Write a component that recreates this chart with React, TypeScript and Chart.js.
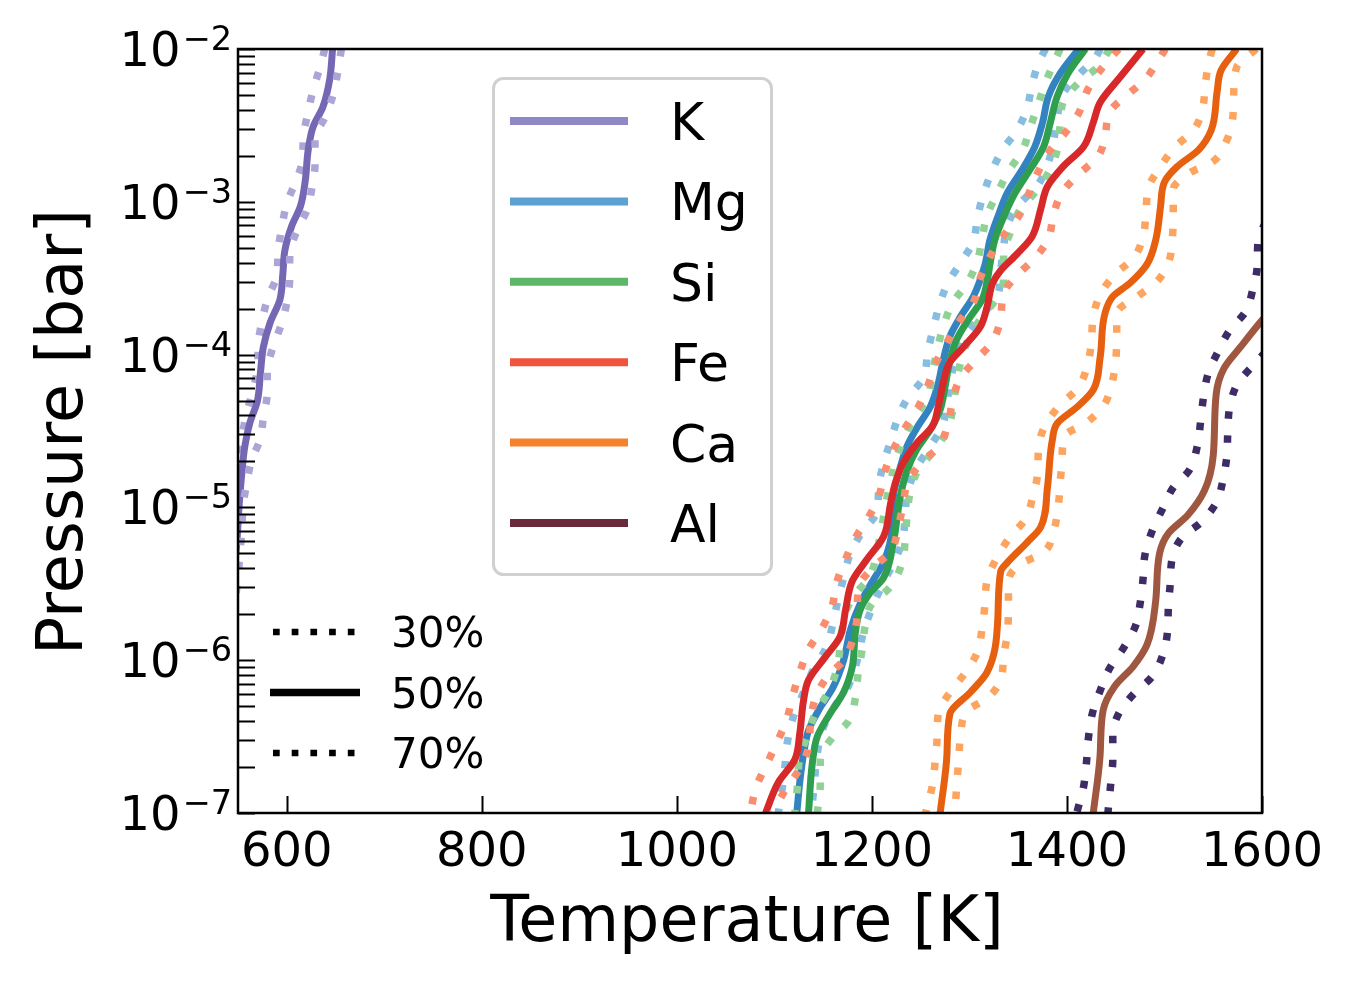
import React, { useEffect, useRef } from 'react';
import { Chart, registerables } from 'chart.js';

Chart.register(...registerables);

type Pt = [number, number]; // [temperature K, log10 pressure bar]

const X_TICKS = [600, 800, 1000, 1200, 1400, 1600];
const Y_EXPONENTS = [-7, -6, -5, -4, -3, -2];
const SPECIES = ['K', 'Mg', 'Si', 'Fe', 'Ca', 'Al'];
const FRACTIONS = ['30%', '50%', '70%'];
const LEGEND_COLORS = ['#8e89c4', '#5ba2d3', '#5cb868', '#f0543c', '#f6822e', '#6a2a3c'];
const SOLID_COLORS = ['#7667b5', '#3383c0', '#2f9e4f', '#d7282a', '#e6600f', '#a0573f'];
const DOTTED_COLORS = ['#aaa7d6', '#86bde0', '#90d295', '#f98d6d', '#fda45e', '#3d2c66'];

const K_30: Pt[] = [[639,-2.00],[634,-2.12],[627,-2.27],[622,-2.41],[617,-2.58],[616,-2.73],[609,-2.87],[600,-3.01],[595,-3.17],[591,-3.33],[590,-3.48],[581,-3.62],[575,-3.77],[571,-3.92],[570,-4.09],[565,-4.24],[559,-4.38],[554,-4.54],[551,-4.69],[548,-4.85]];
const K_50: Pt[] = [[647,-2.00],[644,-2.20],[637,-2.38],[627,-2.51],[622,-2.66],[619,-2.86],[614,-3.03],[605,-3.16],[598,-3.32],[596,-3.47],[593,-3.64],[583,-3.79],[576,-3.95],[573,-4.12],[570,-4.30],[562,-4.45],[557,-4.60],[554,-4.77],[551,-5.00],[549,-5.21],[546,-5.41]];
const K_70: Pt[] = [[656,-2.00],[652,-2.16],[647,-2.31],[639,-2.45],[629,-2.58],[629,-2.75],[626,-2.90],[621,-3.05],[611,-3.18],[603,-3.35],[603,-3.50],[600,-3.66],[595,-3.79],[586,-3.95],[580,-4.10],[580,-4.25],[576,-4.41],[573,-4.55],[564,-4.69],[559,-4.84],[555,-5.00],[554,-5.15],[552,-5.29],[550,-5.46],[547,-5.61]];

const MG_30: Pt[] = [[1378,-2.00],[1371,-2.09],[1364,-2.24],[1359,-2.39],[1349,-2.53],[1334,-2.66],[1323,-2.80],[1314,-2.96],[1308,-3.11],[1304,-3.26],[1292,-3.39],[1278,-3.53],[1269,-3.68],[1263,-3.83],[1257,-3.99],[1253,-4.15],[1237,-4.28],[1227,-4.41],[1219,-4.57],[1212,-4.71],[1207,-4.87],[1205,-5.03],[1190,-5.16],[1178,-5.30],[1171,-5.46],[1165,-5.61],[1160,-5.76],[1153,-5.92],[1140,-6.06],[1130,-6.21],[1119,-6.38],[1113,-6.55],[1110,-6.75],[1104,-7.00]];
const MG_50: Pt[] = [[1412,-2.00],[1393,-2.16],[1381,-2.31],[1375,-2.48],[1367,-2.64],[1354,-2.79],[1339,-2.94],[1329,-3.10],[1321,-3.25],[1316,-3.41],[1304,-3.62],[1291,-3.75],[1280,-3.88],[1273,-4.04],[1268,-4.19],[1260,-4.34],[1247,-4.47],[1236,-4.60],[1229,-4.74],[1222,-4.93],[1221,-5.13],[1212,-5.36],[1200,-5.49],[1188,-5.63],[1178,-5.80],[1171,-6.00],[1160,-6.18],[1147,-6.31],[1135,-6.46],[1130,-6.61],[1126,-6.80],[1123,-7.00]];
const MG_70: Pt[] = [[1434,-2.00],[1429,-2.06],[1412,-2.17],[1396,-2.29],[1390,-2.45],[1386,-2.61],[1380,-2.76],[1369,-2.90],[1352,-3.01],[1339,-3.15],[1335,-3.30],[1332,-3.46],[1329,-3.61],[1313,-3.74],[1296,-3.87],[1287,-4.02],[1280,-4.17],[1277,-4.32],[1272,-4.47],[1260,-4.60],[1246,-4.74],[1237,-4.89],[1234,-5.04],[1232,-5.20],[1224,-5.34],[1212,-5.49],[1202,-5.63],[1192,-5.80],[1185,-6.00],[1175,-6.18],[1161,-6.31],[1149,-6.46],[1144,-6.61],[1141,-6.80],[1138,-7.00]];

const SI_30: Pt[] = [[1393,-2.00],[1388,-2.07],[1378,-2.22],[1370,-2.37],[1362,-2.52],[1354,-2.67],[1340,-2.80],[1329,-2.94],[1318,-3.09],[1313,-3.24],[1308,-3.39],[1298,-3.53],[1283,-3.66],[1273,-3.82],[1267,-3.97],[1262,-4.12],[1257,-4.28],[1244,-4.41],[1232,-4.56],[1224,-4.70],[1219,-4.84],[1214,-4.98],[1212,-5.06],[1207,-5.23],[1197,-5.46],[1184,-5.56],[1174,-5.67],[1169,-5.82],[1164,-6.06],[1155,-6.21],[1142,-6.35],[1134,-6.49],[1126,-6.64],[1124,-6.80],[1121,-7.00]];
const SI_50: Pt[] = [[1419,-2.00],[1401,-2.16],[1390,-2.31],[1383,-2.48],[1376,-2.64],[1362,-2.79],[1347,-2.94],[1335,-3.10],[1326,-3.25],[1321,-3.41],[1319,-3.49],[1313,-3.64],[1299,-3.77],[1287,-3.90],[1280,-4.04],[1275,-4.21],[1270,-4.36],[1260,-4.49],[1246,-4.62],[1236,-4.76],[1229,-4.93],[1226,-5.06],[1222,-5.23],[1212,-5.46],[1198,-5.56],[1188,-5.67],[1183,-5.82],[1180,-6.04],[1171,-6.21],[1157,-6.35],[1144,-6.50],[1139,-6.67],[1135,-7.00]];
const SI_70: Pt[] = [[1444,-2.00],[1431,-2.12],[1412,-2.22],[1396,-2.35],[1393,-2.50],[1390,-2.66],[1381,-2.81],[1367,-2.94],[1352,-3.05],[1342,-3.20],[1335,-3.34],[1335,-3.51],[1327,-3.64],[1311,-3.77],[1299,-3.90],[1291,-4.05],[1286,-4.21],[1283,-4.36],[1276,-4.51],[1262,-4.64],[1247,-4.76],[1239,-4.91],[1236,-5.06],[1234,-5.23],[1231,-5.36],[1219,-5.52],[1200,-5.63],[1193,-5.78],[1190,-5.93],[1186,-6.08],[1183,-6.25],[1176,-6.40],[1159,-6.51],[1147,-6.65],[1147,-6.82],[1144,-7.00]];

const FE_30: Pt[] = [[1453,-2.00],[1434,-2.14],[1421,-2.27],[1412,-2.42],[1398,-2.55],[1383,-2.66],[1370,-2.81],[1360,-2.96],[1350,-3.10],[1334,-3.23],[1321,-3.36],[1311,-3.50],[1304,-3.66],[1291,-3.77],[1277,-3.92],[1266,-4.05],[1257,-4.21],[1247,-4.35],[1234,-4.48],[1222,-4.62],[1213,-4.77],[1207,-4.93],[1196,-5.07],[1183,-5.20],[1173,-5.34],[1164,-5.49],[1159,-5.65],[1149,-5.79],[1135,-5.93],[1126,-6.08],[1119,-6.23],[1113,-6.38],[1104,-6.52],[1093,-6.67],[1082,-6.82],[1075,-7.00]];
const FE_50: Pt[] = [[1478,-2.00],[1455,-2.18],[1434,-2.35],[1427,-2.48],[1417,-2.64],[1396,-2.77],[1380,-2.90],[1373,-3.05],[1364,-3.23],[1349,-3.34],[1332,-3.45],[1324,-3.53],[1318,-3.69],[1311,-3.82],[1294,-3.95],[1280,-4.05],[1273,-4.19],[1268,-4.34],[1262,-4.47],[1246,-4.58],[1232,-4.71],[1224,-4.84],[1219,-4.98],[1212,-5.19],[1195,-5.34],[1180,-5.48],[1173,-5.67],[1167,-5.85],[1152,-5.98],[1135,-6.13],[1130,-6.26],[1126,-6.48],[1121,-6.65],[1104,-6.80],[1091,-7.00]];
const FE_70: Pt[] = [[1501,-2.00],[1494,-2.07],[1480,-2.20],[1462,-2.30],[1444,-2.41],[1439,-2.58],[1431,-2.71],[1412,-2.82],[1395,-2.94],[1386,-3.09],[1381,-3.24],[1367,-3.37],[1349,-3.48],[1335,-3.60],[1332,-3.76],[1323,-3.92],[1306,-4.04],[1291,-4.15],[1283,-4.30],[1278,-4.45],[1269,-4.60],[1252,-4.70],[1237,-4.83],[1232,-4.98],[1227,-5.13],[1219,-5.29],[1200,-5.40],[1186,-5.53],[1185,-5.69],[1181,-5.85],[1171,-6.00],[1154,-6.11],[1142,-6.25],[1137,-6.41],[1135,-6.57],[1126,-6.71],[1113,-6.83],[1098,-7.00]];

const CA_30: Pt[] = [[1549,-2.00],[1546,-2.07],[1542,-2.22],[1539,-2.39],[1530,-2.53],[1511,-2.64],[1496,-2.77],[1484,-2.90],[1481,-3.07],[1478,-3.23],[1468,-3.37],[1450,-3.47],[1434,-3.61],[1427,-3.75],[1425,-3.92],[1421,-4.07],[1411,-4.22],[1393,-4.33],[1378,-4.46],[1371,-4.60],[1370,-4.77],[1365,-4.93],[1357,-5.08],[1342,-5.19],[1329,-5.32],[1318,-5.48],[1316,-5.63],[1313,-5.79],[1308,-5.95],[1296,-6.08],[1280,-6.21],[1268,-6.35],[1267,-6.49],[1265,-6.65],[1262,-6.82],[1255,-7.00]];
const CA_50: Pt[] = [[1574,-2.00],[1558,-2.14],[1554,-2.28],[1548,-2.53],[1535,-2.66],[1513,-2.77],[1500,-2.87],[1496,-3.03],[1491,-3.25],[1482,-3.41],[1465,-3.53],[1447,-3.62],[1439,-3.73],[1434,-4.02],[1427,-4.23],[1411,-4.34],[1390,-4.45],[1385,-4.56],[1380,-4.87],[1373,-5.13],[1359,-5.23],[1339,-5.36],[1332,-5.42],[1329,-5.74],[1318,-6.08],[1301,-6.21],[1280,-6.35],[1277,-6.61],[1270,-7.00]];
const CA_70: Pt[] = [[1594,-2.00],[1574,-2.12],[1571,-2.29],[1570,-2.45],[1563,-2.61],[1549,-2.74],[1526,-2.81],[1509,-2.92],[1509,-3.08],[1508,-3.24],[1504,-3.40],[1491,-3.53],[1472,-3.62],[1452,-3.72],[1451,-3.87],[1450,-4.04],[1446,-4.19],[1437,-4.34],[1419,-4.45],[1398,-4.53],[1395,-4.68],[1393,-4.84],[1391,-5.00],[1386,-5.16],[1375,-5.30],[1352,-5.37],[1340,-5.49],[1340,-5.66],[1339,-5.82],[1335,-5.98],[1332,-6.13],[1318,-6.25],[1298,-6.33],[1291,-6.49],[1289,-6.65],[1287,-6.82],[1285,-7.00]];

const AL_30: Pt[] = [[1604,-3.13],[1596,-3.25],[1595,-3.43],[1591,-3.56],[1583,-3.72],[1567,-3.84],[1555,-3.98],[1545,-4.12],[1540,-4.28],[1537,-4.44],[1534,-4.59],[1525,-4.76],[1509,-4.87],[1498,-5.01],[1487,-5.16],[1480,-5.31],[1478,-5.47],[1475,-5.63],[1470,-5.78],[1458,-5.92],[1444,-6.05],[1434,-6.20],[1426,-6.35],[1422,-6.51],[1420,-6.67],[1417,-6.83],[1410,-7.00]];
const AL_50: Pt[] = [[1609,-3.71],[1598,-3.79],[1578,-3.95],[1561,-4.09],[1553,-4.26],[1550,-4.66],[1541,-4.89],[1524,-5.05],[1504,-5.17],[1495,-5.30],[1491,-5.61],[1482,-5.90],[1468,-6.04],[1449,-6.17],[1437,-6.33],[1434,-6.62],[1427,-7.00]];
const AL_70: Pt[] = [[1604,-3.98],[1591,-4.07],[1575,-4.19],[1567,-4.34],[1565,-4.49],[1564,-4.66],[1560,-4.82],[1553,-4.97],[1537,-5.10],[1519,-5.19],[1508,-5.33],[1506,-5.49],[1504,-5.65],[1503,-5.82],[1498,-5.97],[1487,-6.11],[1470,-6.21],[1453,-6.35],[1447,-6.49],[1447,-6.65],[1445,-6.80],[1442,-7.00]];

const CURVES: Pt[][][] = [
  [K_30, K_50, K_70],
  [MG_30, MG_50, MG_70],
  [SI_30, SI_50, SI_70],
  [FE_30, FE_50, FE_70],
  [CA_30, CA_50, CA_70],
  [AL_30, AL_50, AL_70],
];

const FONT = '"DejaVu Sans", "Liberation Sans", sans-serif';

const decorPlugin = {
  id: 'decor',
  afterDraw(chart: any) {
    const { ctx, chartArea: a, scales } = chart;
    const xs = scales.x;
    const ys = scales.y;
    ctx.save();
    ctx.strokeStyle = '#000';
    ctx.fillStyle = '#000';

    // ticks (inward)
    ctx.lineWidth = 2;
    ctx.beginPath();
    for (const e of Y_EXPONENTS) {
      for (let m = 1; m <= 9; m++) {
        const v = m * Math.pow(10, e);
        if (v > 1.0001e-2) break;
        const y = Math.round(ys.getPixelForValue(v)) + 0.5;
        ctx.moveTo(a.left, y);
        ctx.lineTo(a.left + 17, y);
      }
    }
    for (const t of X_TICKS) {
      const x = Math.round(xs.getPixelForValue(t)) + 0.5;
      ctx.moveTo(x, a.bottom);
      ctx.lineTo(x, a.bottom - 17);
    }
    ctx.stroke();

    // spines
    ctx.lineWidth = 2.5;
    ctx.strokeRect(a.left, a.top, a.right - a.left, a.bottom - a.top);

    // x tick labels
    ctx.font = `48px ${FONT}`;
    ctx.textAlign = 'center';
    ctx.textBaseline = 'alphabetic';
    for (const t of X_TICKS) {
      ctx.fillText(String(t), xs.getPixelForValue(t), a.bottom + 53);
    }

    // y tick labels 10^e
    ctx.textAlign = 'left';
    for (const e of Y_EXPONENTS) {
      const y = ys.getPixelForValue(Math.pow(10, e));
      const sup = '\u2212' + String(-e);
      ctx.font = `33.6px ${FONT}`;
      const wSup = ctx.measureText(sup).width;
      ctx.font = `48px ${FONT}`;
      const wBase = ctx.measureText('10').width;
      const right = a.left - 6;
      ctx.fillText('10', right - wSup - wBase - 2, y + 17);
      ctx.font = `33.6px ${FONT}`;
      ctx.fillText(sup, right - wSup, y + 1);
    }

    // axis titles
    ctx.font = `63.5px ${FONT}`;
    ctx.textAlign = 'center';
    ctx.fillText('Temperature [K]', (a.left + a.right) / 2 - 3, 941);
    ctx.save();
    ctx.translate(82, (a.top + a.bottom) / 2 + 1);
    ctx.rotate(-Math.PI / 2);
    ctx.fillText('Pressure [bar]', 0, 0);
    ctx.restore();

    // species legend
    ctx.beginPath();
    (ctx as any).roundRect(493.5, 78.5, 278, 496, 10);
    ctx.fillStyle = 'rgba(255,255,255,0.85)';
    ctx.fill();
    ctx.strokeStyle = '#d0d0d0';
    ctx.lineWidth = 3;
    ctx.stroke();
    ctx.textAlign = 'left';
    ctx.font = `52px ${FONT}`;
    SPECIES.forEach((sp, i) => {
      const y = 121 + i * 80.4;
      ctx.strokeStyle = LEGEND_COLORS[i];
      ctx.lineWidth = 8;
      ctx.setLineDash([]);
      ctx.beginPath();
      ctx.moveTo(510, y);
      ctx.lineTo(628, y);
      ctx.stroke();
      ctx.fillStyle = '#000';
      ctx.fillText(sp, 670, y + 19);
    });

    // line-style legend
    ctx.font = `42px ${FONT}`;
    FRACTIONS.forEach((f, j) => {
      const y = 632 + j * 60.5;
      ctx.strokeStyle = '#000';
      ctx.lineCap = 'butt';
      if (j === 1) {
        ctx.lineWidth = 7.5;
        ctx.setLineDash([]);
        ctx.beginPath();
        ctx.moveTo(270, y);
        ctx.lineTo(360, y);
        ctx.stroke();
      } else {
        ctx.lineWidth = 6.5;
        ctx.setLineDash([6.7, 12]);
        ctx.beginPath();
        ctx.moveTo(273, y);
        ctx.lineTo(357, y);
        ctx.stroke();
        ctx.setLineDash([]);
      }
      ctx.fillStyle = '#000';
      ctx.fillText(f, 391, y + 15);
    });
    ctx.restore();
  },
};

export default function App() {
  const canvasRef = useRef<HTMLCanvasElement | null>(null);

  useEffect(() => {
    const canvas = canvasRef.current;
    if (!canvas) return;
    const datasets: any[] = [];
    let n = 0;
    SPECIES.forEach((sp, i) => {
      CURVES[i].forEach((curve, j) => {
        const solid = j === 1;
        datasets.push({
          label: `${sp} ${FRACTIONS[j]}`,
          data: curve.map(([t, lp]) => ({ x: t, y: Math.pow(10, lp) })),
          borderColor: solid ? SOLID_COLORS[i] : DOTTED_COLORS[i],
          borderWidth: solid ? 7 : 7.5,
          borderDash: solid ? [] : [7.5, 16.5],
          borderCapStyle: 'butt',
          borderJoinStyle: 'round',
          pointRadius: 0,
          pointHoverRadius: 0,
          fill: false,
          cubicInterpolationMode: 'monotone',
          clip: 0,
          order: 100 - n,
        });
        n++;
      });
    });

    const chart = new Chart(canvas, {
      type: 'line',
      data: { datasets },
      options: {
        indexAxis: 'y',
        responsive: false,
        animation: false,
        devicePixelRatio: 1,
        layout: { padding: { left: 0, right: 89, top: 49, bottom: 0 } },
        plugins: { legend: { display: false }, tooltip: { enabled: false } },
        events: [],
        scales: {
          x: {
            type: 'linear',
            position: 'bottom',
            min: 550,
            max: 1600,
            grid: { display: false },
            border: { display: false },
            ticks: { display: false },
            afterFit: (s: any) => { s.height = 174; },
          },
          y: {
            type: 'logarithmic',
            position: 'left',
            min: 1e-7,
            max: 1e-2,
            grid: { display: false },
            border: { display: false },
            ticks: { display: false },
            afterFit: (s: any) => { s.width = 238; },
          },
        },
      } as any,
      plugins: [decorPlugin],
    });
    return () => chart.destroy();
  }, []);

  return (
    <div style={{ position: 'fixed', left: 0, top: 0, width: 1351, height: 987, background: '#fff' }}>
      <canvas ref={canvasRef} width={1351} height={987} style={{ width: 1351, height: 987, display: 'block' }} />
    </div>
  );
}
